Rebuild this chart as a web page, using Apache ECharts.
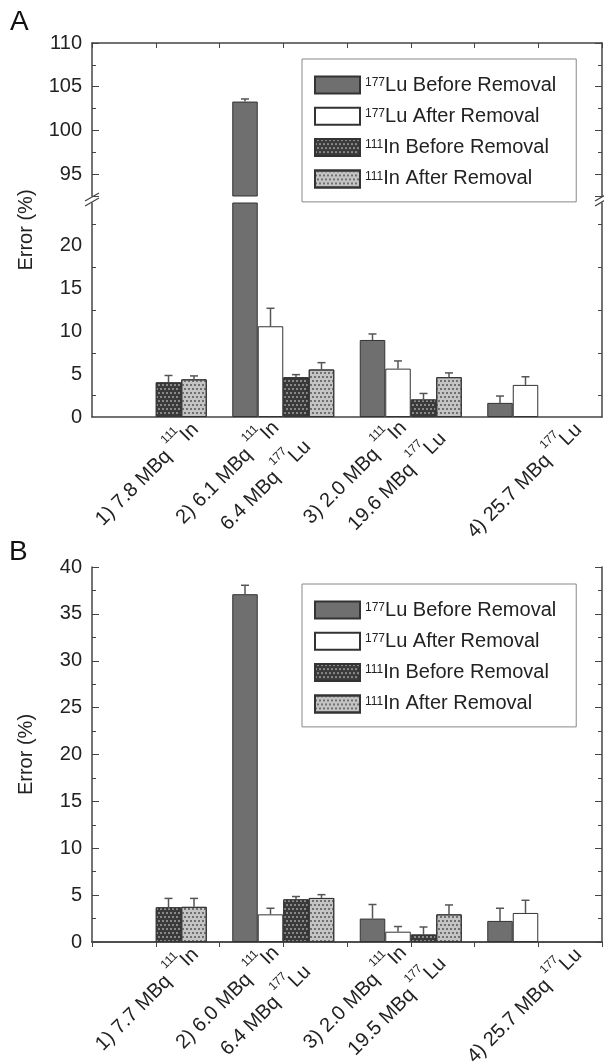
<!DOCTYPE html>
<html>
<head>
<meta charset="utf-8">
<title>Error before and after removal</title>
<script src="https://cdn.jsdelivr.net/npm/echarts@6.0.0/dist/echarts.min.js"></script>
<style>
  html, body { margin: 0; padding: 0; background: #fff; }
  #chart { width: 604px; height: 1063px; }
</style>
</head>
<body>
<div id="chart"></div>
<script>
// category labels, "^" marks a superscript mass number
const groupsA = ['1) 7.8 MBq ^111In', '2) 6.1 MBq ^111In\n6.4 MBq ^177Lu', '3) 2.0 MBq ^111In\n19.6 MBq ^177Lu', '4) 25.7 MBq ^177Lu']
const groupsB = ['1) 7.7 MBq ^111In', '2) 6.0 MBq ^111In\n6.4 MBq ^177Lu', '3) 2.0 MBq ^111In\n19.5 MBq ^177Lu', '4) 25.7 MBq ^177Lu']
const seriesNames = ['177Lu Before Removal', '177Lu After Removal', '111In Before Removal', '111In After Removal']

// panel A, error (%) and the upper half of its error bar
const luBeforeA = [null, 103.3, 9.0, 1.65]
const luBeforeErrA = [null, 0.3, 0.7, 0.8]
const luAfterA = [null, 10.6, 5.65, 3.75]
const luAfterErrA = [null, 2.1, 0.9, 0.95]
const inBeforeA = [4.05, 4.65, 2.05, null]
const inBeforeErrA = [0.8, 0.3, 0.7, null]
const inAfterA = [4.4, 5.55, 4.65, null]
const inAfterErrA = [0.4, 0.8, 0.5, null]

// panel B
const luBeforeB = [null, 37.1, 2.5, 2.25]
const luBeforeErrB = [null, 0.95, 1.5, 1.35]
const luAfterB = [null, 2.95, 1.1, 3.1]
const luAfterErrB = [null, 0.65, 0.55, 1.35]
const inBeforeB = [3.7, 4.55, 0.8, null]
const inBeforeErrB = [0.95, 0.3, 0.8, null]
const inAfterB = [3.75, 4.7, 2.95, null]
const inAfterErrB = [0.9, 0.35, 1.0, null]

// y range of the two pieces of the broken axis in panel A
const lowerRangeA = [0, 25]
const upperRangeA = [92.5, 110]
const rangeB = [0, 40]

const font = 'Liberation Sans, Arial, sans-serif'
const ink = '#222'
const frame = { show: true, lineStyle: { color: '#444', width: 1.5 } }

// nudges of the rotated category labels: trailing room (along the text),
// an empty line (across it, + pushes down, - pulls up) and the second line indent
const labelShift = [24, 88, 88, 40]
const labelDrop = [0, -33, -33, 2]
const indent = 27
const supWidth = 16

const barStyles = [
    { color: '#6f6f6f', borderColor: '#333', borderWidth: 1 },
    { color: '#ffffff', borderColor: '#333', borderWidth: 1 },
    {
        color: '#3a3a3a', borderColor: '#333', borderWidth: 1,
        decal: { symbol: 'rect', symbolSize: 1, color: '#8a8a8a', dashArrayX: [[2, 2], [0, 2, 2, 0]], dashArrayY: [2, 2], rotation: 0 }
    },
    {
        color: '#c4c4c4', borderColor: '#333', borderWidth: 1,
        decal: { symbol: 'rect', symbolSize: 1, color: '#707070', dashArrayX: [[2, 2], [0, 2, 2, 0]], dashArrayY: [2, 2], rotation: 0 }
    }
]

const labelRich = {
    n: { fontSize: 20, lineHeight: 36, color: ink, fontFamily: font },
    s: { fontSize: 12, lineHeight: 26, width: supWidth, verticalAlign: 'top', color: ink, fontFamily: font }
}

const ctx = document.createElement('canvas').getContext('2d')
const measure = text => {
    ctx.font = '20px ' + font
    return ctx.measureText(text).width
}
const splitSup = line => line.split(/\^(\d+)/)
const lineWidth = line => splitSup(line).reduce((w, part, k) => w + (k % 2 ? supWidth : measure(part)), 0)
const richLine = line => splitSup(line).map((part, k) => (k % 2 ? '{s|' + part + '}' : part ? '{n|' + part + '}' : '')).join('')
const pad = w => {
    const key = 'w' + Math.max(1, Math.round(w))
    labelRich[key] = labelRich[key] || { width: Math.max(1, Math.round(w)) }
    return '{' + key + '| }'
}

// all lines get the same width so they read as left aligned, the block stays centred
const categoryLabel = (value, index) => {
    const lines = value.split('\n')
    const total = lineWidth(lines[0]) + labelShift[index]
    const out = lines.map((line, k) => {
        const lead = k ? indent : 0
        return (lead ? pad(lead) : '') + richLine(line) + pad(total - lead - lineWidth(line))
    })
    const drop = labelDrop[index]
    if (drop) {
        const key = 'dn' + index
        labelRich[key] = { fontSize: 1, lineHeight: Math.abs(drop) }
        if (drop > 0) out.unshift('{' + key + '| }')
        else out.push('{' + key + '| }')
    }
    return out.join('\n')
}

const bars = (values, slot, xi, yi) => ({
    type: 'bar',
    name: seriesNames[slot],
    xAxisIndex: xi,
    yAxisIndex: yi,
    barWidth: '20%',
    barGap: '0%',
    silent: true,
    itemStyle: barStyles[slot],
    data: values
})

// one sided error bars, centred on the bar of the given slot
const errorBars = (values, errs, slot, xi, yi) => ({
    type: 'custom',
    xAxisIndex: xi,
    yAxisIndex: yi,
    clip: true,
    silent: true,
    z: 3,
    data: values.map((v, i) => (v == null ? null : [i, v, v + errs[i]])).filter(Boolean),
    renderItem: (params, api) => {
        const base = api.coord([api.value(0), api.value(1)])
        const top = api.coord([api.value(0), api.value(2)])
        const x = base[0] + (slot - 1.5) * api.size([1, 0])[0] * 0.2
        const style = { stroke: '#555', lineWidth: 1.5 }
        return {
            type: 'group',
            children: [
                { type: 'line', shape: { x1: x, y1: base[1], x2: x, y2: top[1] }, style },
                { type: 'line', shape: { x1: x - 4, y1: top[1], x2: x + 4, y2: top[1] }, style }
            ]
        }
    }
})

// "//" marks where the axis of panel A is broken
const breakMarks = {
    type: 'custom',
    xAxisIndex: 2,
    yAxisIndex: 4,
    silent: true,
    z: 10,
    data: [0],
    renderItem: params => {
        const cs = params.coordSys
        const y = cs.y - 3.5
        const style = { stroke: '#444', lineWidth: 1.3 }
        const slash = (x, dy) => ({ type: 'line', shape: { x1: x - 7, y1: y + dy + 4, x2: x + 7, y2: y + dy - 4 }, style })
        const r = cs.x + cs.width
        return { type: 'group', children: [slash(cs.x, -2.5), slash(cs.x, 2.5), slash(r, -2.5), slash(r, 2.5)] }
    }
}

const bottomAxis = (gridIndex, groups) => {
    const texts = groups.map(categoryLabel)
    return {
        type: 'category',
        gridIndex,
        data: groups,
        axisLine: frame,
        axisTick: { inside: true, length: 4, lineStyle: { color: '#444' } },
        splitLine: { show: false },
        axisLabel: {
            interval: 0,
            rotate: 45,
            align: 'center',
            verticalAlign: 'middle',
            margin: 49,
            hideOverlap: false,
            fontSize: 20,
            lineHeight: 36,
            color: ink,
            fontFamily: font,
            formatter: (v, i) => texts[i],
            rich: labelRich
        }
    }
}

const topAxis = gridIndex => ({
    type: 'value',
    gridIndex,
    position: 'top',
    min: 0,
    max: 8,
    interval: 1,
    axisLine: frame,
    axisTick: { inside: true, length: 5, lineStyle: { color: '#444' } },
    axisLabel: { show: false },
    splitLine: { show: false }
})

const tickLabels = { fontSize: 20, color: ink, fontFamily: font, margin: 10 }

const sideAxis = (gridIndex, position, range, extra) => Object.assign({
    type: 'value',
    gridIndex,
    position,
    min: range[0],
    max: range[1],
    axisLine: frame,
    axisTick: { inside: true, length: 7, lineStyle: { color: '#444' } },
    minorTick: { show: true, splitNumber: 2, length: 4, lineStyle: { color: '#444' } },
    axisLabel: position === 'left' ? tickLabels : { show: false },
    splitLine: { show: false },
    minorSplitLine: { show: false }
}, extra)

const axisName = {
    name: 'Error (%)',
    nameLocation: 'middle',
    nameGap: 56,
    nameMoveOverlap: false,
    nameTextStyle: { fontSize: 20, color: ink, fontFamily: font }
}

const legendBox = top => ({
    orient: 'vertical',
    left: 302,
    top,
    data: seriesNames,
    icon: 'rect',
    itemWidth: 45,
    itemHeight: 17,
    itemGap: 11.3,
    padding: [16, 20, 13, 12],
    borderColor: '#888',
    borderWidth: 1,
    selectedMode: false,
    formatter: name => name.replace(/^(\d+)/, '{s|$1}'),
    textStyle: {
        fontSize: 20,
        lineHeight: 17,
        color: ink,
        fontFamily: font,
        rich: { s: { fontSize: 12, lineHeight: 12, verticalAlign: 'top', color: ink, fontFamily: font } }
    }
})

const chart = echarts.init(document.getElementById('chart'), null, { renderer: 'canvas' })

chart.setOption({
    animation: false,
    backgroundColor: '#fff',
    textStyle: { fontFamily: font },
    title: [
        { text: 'A', left: 10, top: 8, padding: 0, textStyle: { fontSize: 28, fontWeight: 'normal', color: '#111', fontFamily: font } },
        { text: 'B', left: 9, top: 538, padding: 0, textStyle: { fontSize: 28, fontWeight: 'normal', color: '#111', fontFamily: font } }
    ],
    legend: [legendBox(59), legendBox(584)],
    grid: [
        { left: 92, right: 2, top: 43, height: 153, outerBoundsMode: 'none' },
        { left: 92, right: 2, top: 203, height: 214, outerBoundsMode: 'none' },
        { left: 92, right: 2, top: 567, height: 375, outerBoundsMode: 'none' }
    ],
    xAxis: [
        { type: 'category', gridIndex: 0, data: groupsA, show: false },
        topAxis(0),
        bottomAxis(1, groupsA),
        bottomAxis(2, groupsB),
        topAxis(2)
    ],
    yAxis: [
        // upper piece of panel A: long ticks at multiples of 5, short ones between
        sideAxis(0, 'left', upperRangeA, {
            minInterval: 5, maxInterval: 5, minorTick: { show: false },
            axisLabel: Object.assign({}, tickLabels, { formatter: v => (v % 5 ? '' : v) })
        }),
        sideAxis(0, 'left', upperRangeA, {
            interval: 2.5, axisLine: { show: false }, minorTick: { show: false },
            axisTick: { inside: true, length: 4, lineStyle: { color: '#444' } }, axisLabel: { show: false }
        }),
        sideAxis(0, 'right', upperRangeA, { minInterval: 5, maxInterval: 5, minorTick: { show: false } }),
        sideAxis(0, 'right', upperRangeA, {
            interval: 2.5, axisLine: { show: false }, minorTick: { show: false },
            axisTick: { inside: true, length: 4, lineStyle: { color: '#444' } }
        }),
        // lower piece of panel A
        sideAxis(1, 'left', lowerRangeA, Object.assign({
            interval: 5,
            axisLabel: Object.assign({}, tickLabels, { formatter: v => (v === 25 ? '' : v) })
        }, axisName, { nameTextStyle: Object.assign({}, axisName.nameTextStyle, { padding: [0, 0, 0, 160] }) })),
        sideAxis(1, 'right', lowerRangeA, { interval: 5 }),
        // panel B
        sideAxis(2, 'left', rangeB, Object.assign({ interval: 5 }, axisName)),
        sideAxis(2, 'right', rangeB, { interval: 5 })
    ],
    series: [
        bars(luBeforeA, 0, 0, 0), bars(luAfterA, 1, 0, 0), bars(inBeforeA, 2, 0, 0), bars(inAfterA, 3, 0, 0),
        errorBars(luBeforeA, luBeforeErrA, 0, 0, 0),
        bars(luBeforeA, 0, 2, 4), bars(luAfterA, 1, 2, 4), bars(inBeforeA, 2, 2, 4), bars(inAfterA, 3, 2, 4),
        errorBars(luBeforeA, luBeforeErrA, 0, 2, 4),
        errorBars(luAfterA, luAfterErrA, 1, 2, 4),
        errorBars(inBeforeA, inBeforeErrA, 2, 2, 4),
        errorBars(inAfterA, inAfterErrA, 3, 2, 4),
        breakMarks,
        bars(luBeforeB, 0, 3, 6), bars(luAfterB, 1, 3, 6), bars(inBeforeB, 2, 3, 6), bars(inAfterB, 3, 3, 6),
        errorBars(luBeforeB, luBeforeErrB, 0, 3, 6),
        errorBars(luAfterB, luAfterErrB, 1, 3, 6),
        errorBars(inBeforeB, inBeforeErrB, 2, 3, 6),
        errorBars(inAfterB, inAfterErrB, 3, 3, 6)
    ]
})
</script>
</body>
</html>
